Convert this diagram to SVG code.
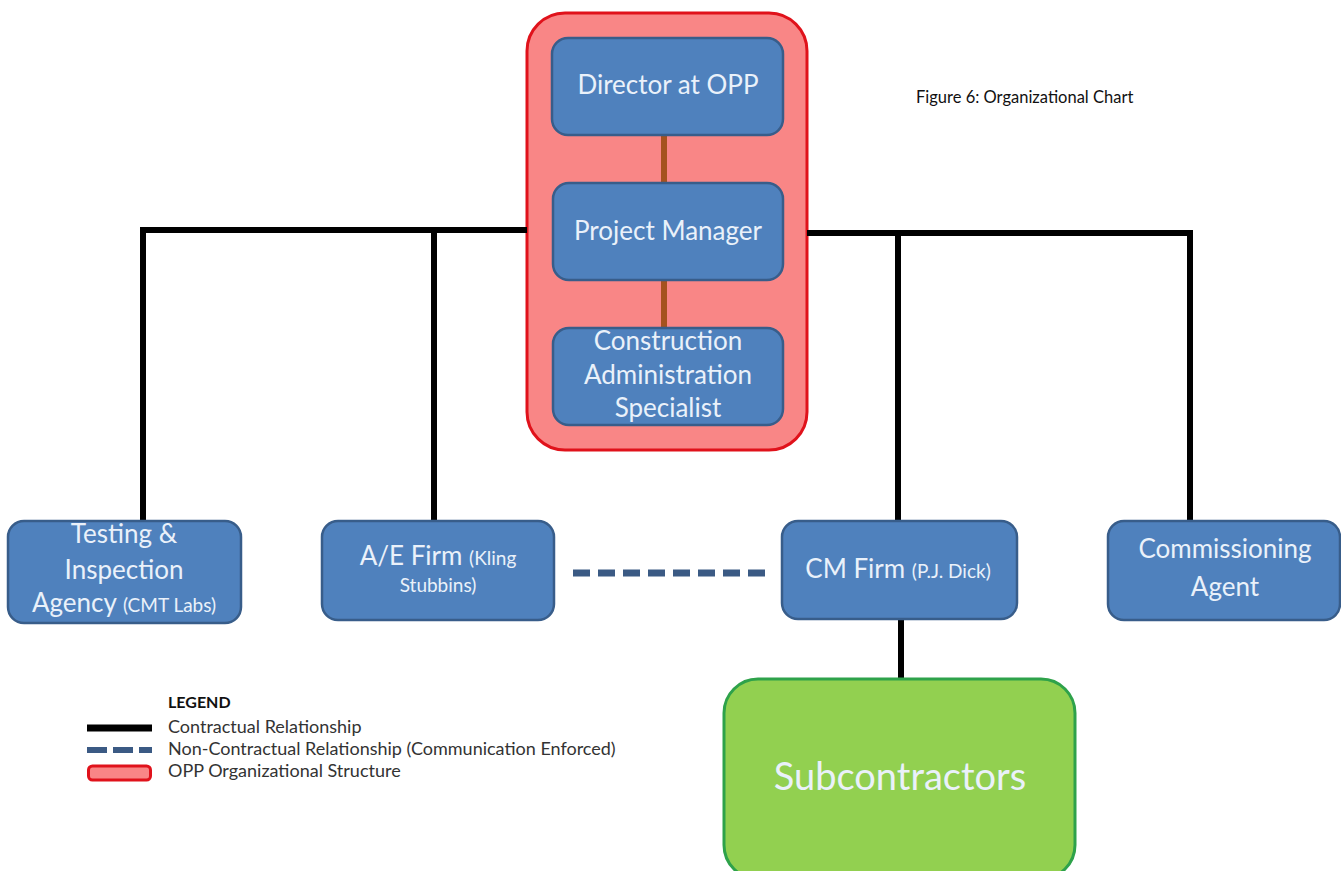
<svg xmlns="http://www.w3.org/2000/svg" width="1341" height="871" viewBox="0 0 1341 871">
<style>
.box{fill:#4f81bd;stroke:#385d8a;stroke-width:2.5}
.t{font-family:Lato,"Open Sans","Liberation Sans",sans-serif;fill:#eaf1fa;text-anchor:middle;font-size:26px}
.s{font-size:19px}
.k{stroke:#000;stroke-width:6;fill:none}
.cap{font-family:Lato,"Open Sans","Liberation Sans",sans-serif;fill:#111}
.lg{font-size:18px;fill:#333}
</style>
<rect width="1341" height="871" fill="#fff"/>
<g id="opp">
<rect x="527" y="13" width="280" height="437" rx="38" fill="#f98686" stroke="#e0121b" stroke-width="3"/>
</g>
<g id="connectors">
<line x1="664" y1="135" x2="664" y2="183" stroke="#a5521e" stroke-width="6"/>
<line x1="664" y1="280" x2="664" y2="328" stroke="#a5521e" stroke-width="6"/>
<polyline class="k" points="143,521 143,230 527,230"/>
<line class="k" x1="434" y1="230" x2="434" y2="521"/>
<polyline class="k" points="807,233 1190,233 1190,521"/>
<line class="k" x1="898" y1="233" x2="898" y2="521"/>
<line class="k" x1="901" y1="619" x2="901" y2="679"/>
<line x1="573" y1="573" x2="765" y2="573" stroke="#3b5a84" stroke-width="7" stroke-dasharray="17 8"/>
</g>
<g id="director"><rect class="box" x="552" y="38" width="231" height="97" rx="16"/><text class="t" x="668" y="94">Director at OPP</text></g>
<g id="pm"><rect class="box" x="553" y="183" width="230" height="97" rx="16"/><text class="t" x="668" y="240">Project Manager</text></g>
<g id="cas"><rect class="box" x="553" y="328" width="230" height="97" rx="16"/>
<text class="t" x="668" y="350">Construction</text>
<text class="t" x="668" y="384">Administration</text>
<text class="t" x="668" y="417">Specialist</text></g>
<g id="testing"><rect class="box" x="8" y="521" width="233" height="102" rx="16"/>
<text class="t" x="124" y="543">Testing &amp;</text>
<text class="t" x="124" y="579">Inspection</text>
<text class="t" x="124" y="612">Agency <tspan class="s">(CMT Labs)</tspan></text></g>
<g id="ae"><rect class="box" x="322" y="521" width="232" height="99" rx="16"/>
<text class="t" x="438" y="565">A/E Firm <tspan class="s">(Kling</tspan></text>
<text class="t s" x="438" y="592">Stubbins)</text></g>
<g id="cm"><rect class="box" x="782" y="521" width="235" height="98" rx="16"/>
<text class="t" x="898" y="578">CM Firm <tspan class="s">(P.J. Dick)</tspan></text></g>
<g id="comm"><rect class="box" x="1108" y="521" width="232" height="99" rx="16"/>
<text class="t" x="1225" y="558">Commissioning</text>
<text class="t" x="1225" y="596">Agent</text></g>
<g id="sub"><rect x="724" y="679" width="351" height="200" rx="34" fill="#92d050" stroke="#2ea24a" stroke-width="3"/>
<text class="t" x="900" y="790" style="font-size:38px" fill="#f3f9e6">Subcontractors</text></g>
<g id="caption"><text class="cap" x="916" y="103" font-size="16.5">Figure 6: Organizational Chart</text></g>
<g id="legend">
<text class="cap" x="168" y="708" font-size="16" font-weight="bold">LEGEND</text>
<line x1="87" y1="728" x2="152" y2="728" stroke="#000" stroke-width="7"/>
<text class="cap lg" x="168" y="733">Contractual Relationship</text>
<line x1="87" y1="750" x2="152" y2="750" stroke="#3b5a84" stroke-width="6" stroke-dasharray="20 6"/>
<text class="cap lg" x="168" y="755">Non-Contractual Relationship (Communication Enforced)</text>
<rect x="88.5" y="766" width="62" height="14" rx="4" fill="#f98686" stroke="#e0121b" stroke-width="3"/>
<text class="cap lg" x="168" y="777">OPP Organizational Structure</text>
</g>
</svg>
